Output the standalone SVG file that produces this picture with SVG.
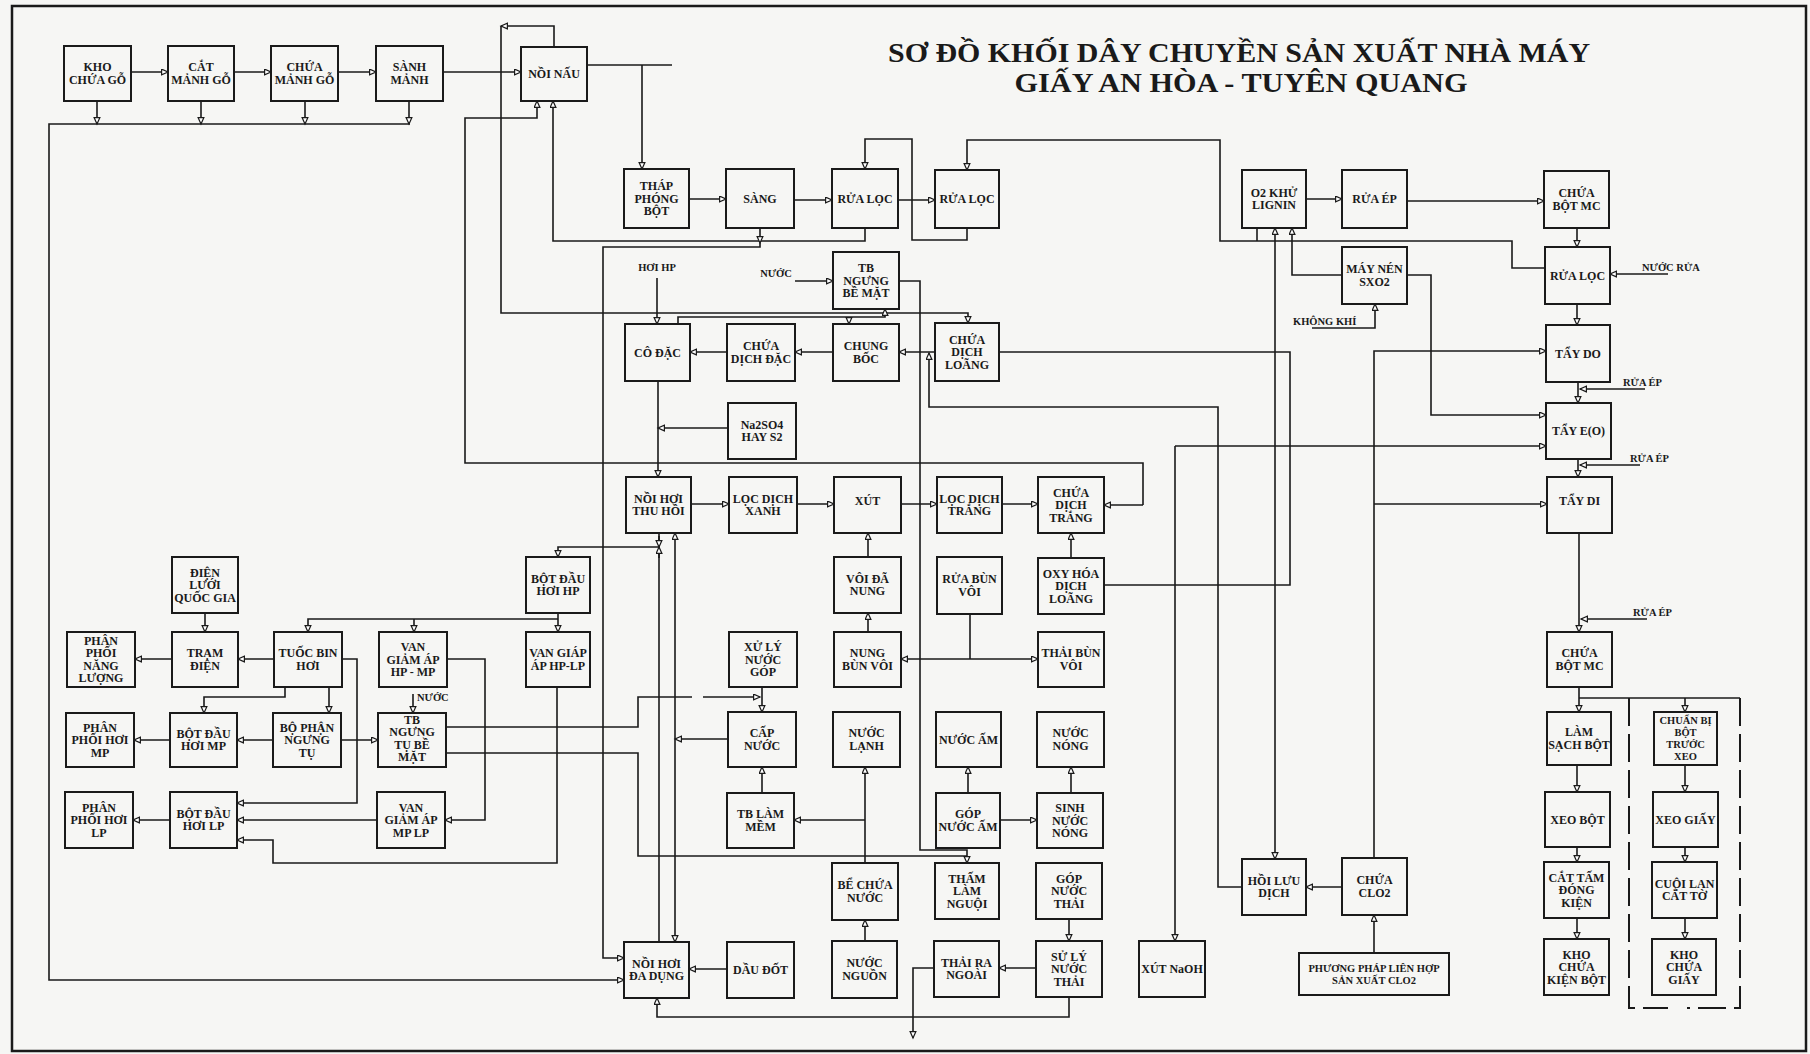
<svg xmlns="http://www.w3.org/2000/svg" width="1810" height="1054" viewBox="0 0 1810 1054">
<defs>
<marker id="ar" markerWidth="9" markerHeight="9" refX="7" refY="3.5" orient="auto" markerUnits="userSpaceOnUse">
<path d="M0.6,0.6 L7,3.5 L0.6,6.4 Z" fill="#fff" stroke="#1a1a1a" stroke-width="1.2"/>
</marker>
<style>
.n rect{fill:#f6f6f4;stroke:#1a1a1a;stroke-width:2}
.n text{font-family:"Liberation Serif","DejaVu Serif",serif;font-weight:bold;font-size:12px;text-anchor:middle;fill:#1a1a1a}
.c path{fill:none;stroke:#1a1a1a;stroke-width:1.6}
.c .a{marker-end:url(#ar)}
.c .d{stroke-dasharray:28 8;stroke-width:2}
.lbl{font-family:"Liberation Serif","DejaVu Serif",serif;font-weight:bold;font-size:10.5px;fill:#1a1a1a}
.ttl{font-family:"Liberation Serif","DejaVu Serif",serif;font-weight:bold;font-size:28px;fill:#1a1a1a;text-anchor:middle}
</style>
</defs>
<rect x="0" y="0" width="1810" height="1054" fill="#f6f6f4"/>
<rect x="12" y="6" width="1794" height="1045" fill="none" stroke="#1a1a1a" stroke-width="2.5"/>
<g id="title">
<text class="ttl" x="1239" y="62" textLength="702" lengthAdjust="spacingAndGlyphs">SƠ ĐỒ KHỐI DÂY CHUYỀN SẢN XUẤT NHÀ MÁY</text>
<text class="ttl" x="1241" y="92" textLength="453" lengthAdjust="spacingAndGlyphs">GIẤY AN HÒA - TUYÊN QUANG</text>
</g>
<g id="connectors" class="c">
<path class="a" d="M131,72H168"/>
<path class="a" d="M234,72H271"/>
<path class="a" d="M338,72H376"/>
<path class="a" d="M443,72H521"/>
<path class="a" d="M97,101V124"/>
<path class="a" d="M201,101V124"/>
<path class="a" d="M305,101V124"/>
<path class="a" d="M409,101V124"/>
<path class="a" d="M410,124H49V980H624"/>
<path class="a" d="M554,47V26H501"/>
<path class="a" d="M501,26V313H968V323"/>
<path d="M587,65H672"/>
<path class="a" d="M642,65V169"/>
<path class="a" d="M1143,505H1104"/>
<path class="a" d="M1143,505V463H465V118H537V101"/>
<path class="a" d="M865,228V241H553V101"/>
<path class="a" d="M760,228V243"/>
<path class="a" d="M760,243V247H603V958H624"/>
<path class="a" d="M689,199H726"/>
<path class="a" d="M794,200H832"/>
<path class="a" d="M898,200H935"/>
<path class="a" d="M967,228V240H912V139H865V169"/>
<path class="a" d="M1545,268H1512V241H1220V140H967V170"/>
<path d="M1257,228V241"/>
<path class="a" d="M1306,199H1342"/>
<path class="a" d="M1407,201H1544"/>
<path class="a" d="M1577,228V247"/>
<path class="a" d="M1668,274H1610"/>
<path class="a" d="M1577,304V325"/>
<path class="a" d="M1578,382V403"/>
<path class="a" d="M1645,389H1580"/>
<path class="a" d="M1578,459V477"/>
<path class="a" d="M1640,465H1580"/>
<path class="a" d="M1579,533V632"/>
<path class="a" d="M1647,619H1581"/>
<path class="a" d="M1579,687V712"/>
<path d="M1579,698H1740"/>
<path class="a" d="M1685,698V712"/>
<path class="d" d="M1629,698V1008H1668"/>
<path class="d" d="M1740,698V1008H1687"/>
<path class="a" d="M1577,765V792"/>
<path class="a" d="M1577,847V862"/>
<path class="a" d="M1577,918V939"/>
<path class="a" d="M1685,765V792"/>
<path class="a" d="M1685,847V862"/>
<path class="a" d="M1685,918V939"/>
<path class="a" d="M1342,275H1292V228"/>
<path class="a" d="M1312,328H1375V304"/>
<path class="a" d="M1407,275H1431V415H1546"/>
<path class="a" d="M1374,858V351H1546"/>
<path class="a" d="M1374,504H1547"/>
<path class="a" d="M1175,446V941"/>
<path class="a" d="M1175,446H1546"/>
<path class="a" d="M1275,545V228"/>
<path class="a" d="M1275,545V859"/>
<path class="a" d="M1342,887H1306"/>
<path class="a" d="M1242,887H1218V407H929V353"/>
<path class="a" d="M1374,953V915"/>
<path class="a" d="M935,352H899"/>
<path d="M999,352H1290V585H1104"/>
<path class="a" d="M833,352H795"/>
<path class="a" d="M727,352H690"/>
<path class="a" d="M657,278V324"/>
<path class="a" d="M678,324V317H885V309"/>
<path class="a" d="M849,317V324"/>
<path class="a" d="M795,281H833"/>
<path class="a" d="M899,281H920V850H967V863"/>
<path class="a" d="M658,381V477"/>
<path class="a" d="M728,428H658"/>
<path class="a" d="M691,504H729"/>
<path class="a" d="M797,504H834"/>
<path class="a" d="M901,504H937"/>
<path class="a" d="M1002,504H1038"/>
<path class="a" d="M1071,558V533"/>
<path class="a" d="M868,557V533"/>
<path class="a" d="M868,632V613"/>
<path d="M970,614V659"/>
<path class="a" d="M970,659H901"/>
<path class="a" d="M970,659H1038"/>
<path d="M659,533V942"/>
<path class="a" d="M659,536V547"/>
<path class="a" d="M659,558V547"/>
<path class="a" d="M659,547H558V557"/>
<path class="a" d="M728,739H675"/>
<path class="a" d="M675,739V533"/>
<path class="a" d="M675,739V942"/>
<path class="a" d="M558,613V632"/>
<path class="a" d="M558,619H308V632"/>
<path class="a" d="M414,619V632"/>
<path class="a" d="M557,687V863H273V840H237"/>
<path class="a" d="M447,659H485V820H445"/>
<path class="a" d="M274,659H238"/>
<path class="a" d="M172,659H135"/>
<path class="a" d="M205,613V632"/>
<path class="a" d="M285,687V697H204V713"/>
<path class="a" d="M329,687V713"/>
<path class="a" d="M342,659H357V803H237"/>
<path class="a" d="M273,740H237"/>
<path class="a" d="M170,740H134"/>
<path class="a" d="M341,740H378"/>
<path class="a" d="M377,820H237"/>
<path class="a" d="M170,820H133"/>
<path class="a" d="M413,694V713"/>
<path d="M446,727H638V697H692"/>
<path class="a" d="M703,697H760"/>
<path class="a" d="M762,687V712"/>
<path d="M446,753H638V856H967"/>
<path class="a" d="M762,793V767"/>
<path class="a" d="M865,863V767"/>
<path class="a" d="M865,820H794"/>
<path class="a" d="M865,941V920"/>
<path class="a" d="M727,969H689"/>
<path class="a" d="M1069,997V1017H657V998"/>
<path class="a" d="M968,793V767"/>
<path class="a" d="M1071,793V767"/>
<path class="a" d="M1000,820H1037"/>
<path class="a" d="M1069,919V941"/>
<path class="a" d="M1036,968H999"/>
<path class="a" d="M934,968H913V1038"/>
</g>
<g id="labels">
<text class="lbl" x="657" y="271" text-anchor="middle">HƠI HP</text>
<text class="lbl" x="776" y="277" text-anchor="middle">NƯỚC</text>
<text class="lbl" x="1293" y="325">KHÔNG KHÍ</text>
<text class="lbl" x="1642" y="271">NƯỚC RỬA</text>
<text class="lbl" x="1623" y="386">RỬA ÉP</text>
<text class="lbl" x="1630" y="462">RỬA ÉP</text>
<text class="lbl" x="1633" y="616">RỬA ÉP</text>
<text class="lbl" x="417" y="701">NƯỚC</text>
</g>
<g id="n1" class="n"><rect x="64" y="46" width="67" height="55"/><text x="97.5" y="71.25"><tspan x="97.5">KHO</tspan><tspan x="97.5" dy="12.5">CHỨA GỖ</tspan></text></g>
<g id="n2" class="n"><rect x="168" y="46" width="66" height="55"/><text x="201" y="71.25"><tspan x="201">CẮT</tspan><tspan x="201" dy="12.5">MẢNH GỖ</tspan></text></g>
<g id="n3" class="n"><rect x="271" y="46" width="67" height="55"/><text x="304.5" y="71.25"><tspan x="304.5">CHỨA</tspan><tspan x="304.5" dy="12.5">MẢNH GỖ</tspan></text></g>
<g id="n4" class="n"><rect x="376" y="46" width="67" height="55"/><text x="409.5" y="71.25"><tspan x="409.5">SÀNH</tspan><tspan x="409.5" dy="12.5">MẢNH</tspan></text></g>
<g id="n5" class="n"><rect x="521" y="47" width="66" height="54"/><text x="554" y="78">NỒI NẤU</text></g>
<g id="n6" class="n"><rect x="624" y="169" width="65" height="59"/><text x="656.5" y="190"><tspan x="656.5">THÁP</tspan><tspan x="656.5" dy="12.5">PHÓNG</tspan><tspan x="656.5" dy="12.5">BỘT</tspan></text></g>
<g id="n7" class="n"><rect x="726" y="169" width="68" height="59"/><text x="760" y="202.5">SÀNG</text></g>
<g id="n8" class="n"><rect x="832" y="169" width="66" height="59"/><text x="865" y="202.5">RỬA LỌC</text></g>
<g id="n9" class="n"><rect x="935" y="170" width="64" height="58"/><text x="967" y="203">RỬA LỌC</text></g>
<g id="n10" class="n"><rect x="1242" y="170" width="64" height="58"/><text x="1274" y="196.75"><tspan x="1274">O2 KHỬ</tspan><tspan x="1274" dy="12.5">LIGNIN</tspan></text></g>
<g id="n11" class="n"><rect x="1342" y="170" width="65" height="58"/><text x="1374.5" y="203">RỬA ÉP</text></g>
<g id="n12" class="n"><rect x="1544" y="171" width="65" height="57"/><text x="1576.5" y="197.25"><tspan x="1576.5">CHỨA</tspan><tspan x="1576.5" dy="12.5">BỘT MC</tspan></text></g>
<g id="n13" class="n"><rect x="1545" y="247" width="65" height="57"/><text x="1577.5" y="279.5">RỬA LỌC</text></g>
<g id="n14" class="n"><rect x="1342" y="247" width="65" height="57"/><text x="1374.5" y="273.25"><tspan x="1374.5">MÁY NÉN</tspan><tspan x="1374.5" dy="12.5">SXO2</tspan></text></g>
<g id="n15" class="n"><rect x="1546" y="325" width="64" height="57"/><text x="1578" y="357.5">TẨY DO</text></g>
<g id="n16" class="n"><rect x="1546" y="403" width="65" height="56"/><text x="1578.5" y="435">TẨY E(O)</text></g>
<g id="n17" class="n"><rect x="1547" y="477" width="65" height="56"/><text x="1579.5" y="505">TẨY DI</text></g>
<g id="n18" class="n"><rect x="1547" y="632" width="65" height="55"/><text x="1579.5" y="657.25"><tspan x="1579.5">CHỨA</tspan><tspan x="1579.5" dy="12.5">BỘT MC</tspan></text></g>
<g id="n19" class="n"><rect x="1547" y="712" width="64" height="53"/><text x="1579" y="736.25"><tspan x="1579">LÀM</tspan><tspan x="1579" dy="12.5">SẠCH BỘT</tspan></text></g>
<g id="n20" class="n"><rect x="1654" y="712" width="63" height="53"/><text x="1685.5" y="724" style="font-size:10.5px"><tspan x="1685.5">CHUẨN BỊ</tspan><tspan x="1685.5" dy="12">BỘT</tspan><tspan x="1685.5" dy="12">TRƯỚC</tspan><tspan x="1685.5" dy="12">XEO</tspan></text></g>
<g id="n21" class="n"><rect x="1545" y="792" width="65" height="55"/><text x="1577.5" y="823.5">XEO BỘT</text></g>
<g id="n22" class="n"><rect x="1653" y="792" width="65" height="55"/><text x="1685.5" y="823.5">XEO GIẤY</text></g>
<g id="n23" class="n"><rect x="1544" y="862" width="65" height="56"/><text x="1576.5" y="881.5"><tspan x="1576.5">CẮT TẤM</tspan><tspan x="1576.5" dy="12.5">ĐÓNG</tspan><tspan x="1576.5" dy="12.5">KIỆN</tspan></text></g>
<g id="n24" class="n"><rect x="1652" y="862" width="65" height="56"/><text x="1684.5" y="887.75"><tspan x="1684.5">CUỘI LAN</tspan><tspan x="1684.5" dy="12.5">CẮT TỜ</tspan></text></g>
<g id="n25" class="n"><rect x="1544" y="939" width="65" height="56"/><text x="1576.5" y="958.5"><tspan x="1576.5">KHO</tspan><tspan x="1576.5" dy="12.5">CHỨA</tspan><tspan x="1576.5" dy="12.5">KIỆN BỘT</tspan></text></g>
<g id="n26" class="n"><rect x="1652" y="939" width="64" height="56"/><text x="1684" y="958.5"><tspan x="1684">KHO</tspan><tspan x="1684" dy="12.5">CHỨA</tspan><tspan x="1684" dy="12.5">GIẤY</tspan></text></g>
<g id="n27" class="n"><rect x="833" y="252" width="66" height="57"/><text x="866" y="272"><tspan x="866">TB</tspan><tspan x="866" dy="12.5">NGƯNG</tspan><tspan x="866" dy="12.5">BỀ MẶT</tspan></text></g>
<g id="n28" class="n"><rect x="625" y="324" width="65" height="57"/><text x="657.5" y="356.5">CÔ ĐẶC</text></g>
<g id="n29" class="n"><rect x="727" y="324" width="68" height="57"/><text x="761" y="350.25"><tspan x="761">CHỨA</tspan><tspan x="761" dy="12.5">DỊCH ĐẶC</tspan></text></g>
<g id="n30" class="n"><rect x="833" y="324" width="66" height="57"/><text x="866" y="350.25"><tspan x="866">CHUNG</tspan><tspan x="866" dy="12.5">BỐC</tspan></text></g>
<g id="n31" class="n"><rect x="935" y="323" width="64" height="58"/><text x="967" y="343.5"><tspan x="967">CHỨA</tspan><tspan x="967" dy="12.5">DỊCH</tspan><tspan x="967" dy="12.5">LOÃNG</tspan></text></g>
<g id="n32" class="n"><rect x="728" y="403" width="68" height="56"/><text x="762" y="428.75"><tspan x="762">Na2SO4</tspan><tspan x="762" dy="12.5">HAY S2</tspan></text></g>
<g id="n33" class="n"><rect x="626" y="477" width="65" height="56"/><text x="658.5" y="502.75"><tspan x="658.5">NỒI HƠI</tspan><tspan x="658.5" dy="12.5">THU HỒI</tspan></text></g>
<g id="n34" class="n"><rect x="729" y="477" width="68" height="56"/><text x="763" y="502.75"><tspan x="763">LỌC DỊCH</tspan><tspan x="763" dy="12.5">XANH</tspan></text></g>
<g id="n35" class="n"><rect x="834" y="477" width="67" height="56"/><text x="867.5" y="505">XÚT</text></g>
<g id="n36" class="n"><rect x="937" y="477" width="65" height="56"/><text x="969.5" y="502.75"><tspan x="969.5">LỌC DỊCH</tspan><tspan x="969.5" dy="12.5">TRẮNG</tspan></text></g>
<g id="n37" class="n"><rect x="1038" y="477" width="66" height="56"/><text x="1071" y="496.5"><tspan x="1071">CHỨA</tspan><tspan x="1071" dy="12.5">DỊCH</tspan><tspan x="1071" dy="12.5">TRẮNG</tspan></text></g>
<g id="n38" class="n"><rect x="526" y="557" width="64" height="56"/><text x="558" y="582.75"><tspan x="558">BỘT ĐẦU</tspan><tspan x="558" dy="12.5">HƠI HP</tspan></text></g>
<g id="n39" class="n"><rect x="834" y="557" width="67" height="56"/><text x="867.5" y="582.75"><tspan x="867.5">VÔI ĐÃ</tspan><tspan x="867.5" dy="12.5">NUNG</tspan></text></g>
<g id="n40" class="n"><rect x="937" y="557" width="65" height="57"/><text x="969.5" y="583.25"><tspan x="969.5">RỬA BÙN</tspan><tspan x="969.5" dy="12.5">VÔI</tspan></text></g>
<g id="n41" class="n"><rect x="1038" y="558" width="66" height="56"/><text x="1071" y="577.5"><tspan x="1071">OXY HÓA</tspan><tspan x="1071" dy="12.5">DỊCH</tspan><tspan x="1071" dy="12.5">LOÃNG</tspan></text></g>
<g id="n42" class="n"><rect x="172" y="557" width="66" height="56"/><text x="205" y="576.5"><tspan x="205">ĐIỆN</tspan><tspan x="205" dy="12.5">LƯỚI</tspan><tspan x="205" dy="12.5">QUỐC GIA</tspan></text></g>
<g id="n43" class="n"><rect x="67" y="632" width="68" height="55"/><text x="101" y="644.75"><tspan x="101">PHÂN</tspan><tspan x="101" dy="12.5">PHỐI</tspan><tspan x="101" dy="12.5">NĂNG</tspan><tspan x="101" dy="12.5">LƯỢNG</tspan></text></g>
<g id="n44" class="n"><rect x="172" y="632" width="66" height="55"/><text x="205" y="657.25"><tspan x="205">TRẠM</tspan><tspan x="205" dy="12.5">ĐIỆN</tspan></text></g>
<g id="n45" class="n"><rect x="274" y="632" width="68" height="55"/><text x="308" y="657.25"><tspan x="308">TUỐC BIN</tspan><tspan x="308" dy="12.5">HƠI</tspan></text></g>
<g id="n46" class="n"><rect x="379" y="632" width="68" height="55"/><text x="413" y="651"><tspan x="413">VAN</tspan><tspan x="413" dy="12.5">GIẢM ÁP</tspan><tspan x="413" dy="12.5">HP - MP</tspan></text></g>
<g id="n47" class="n"><rect x="526" y="632" width="64" height="55"/><text x="558" y="657.25"><tspan x="558">VAN GIÁP</tspan><tspan x="558" dy="12.5">ÁP HP-LP</tspan></text></g>
<g id="n48" class="n"><rect x="729" y="632" width="68" height="55"/><text x="763" y="651"><tspan x="763">XỬ LÝ</tspan><tspan x="763" dy="12.5">NƯỚC</tspan><tspan x="763" dy="12.5">GÓP</tspan></text></g>
<g id="n49" class="n"><rect x="834" y="632" width="67" height="55"/><text x="867.5" y="657.25"><tspan x="867.5">NUNG</tspan><tspan x="867.5" dy="12.5">BÙN VÔI</tspan></text></g>
<g id="n50" class="n"><rect x="1038" y="632" width="66" height="55"/><text x="1071" y="657.25"><tspan x="1071">THẢI BÙN</tspan><tspan x="1071" dy="12.5">VÔI</tspan></text></g>
<g id="n51" class="n"><rect x="728" y="712" width="68" height="55"/><text x="762" y="737.25"><tspan x="762">CẤP</tspan><tspan x="762" dy="12.5">NƯỚC</tspan></text></g>
<g id="n52" class="n"><rect x="833" y="712" width="67" height="55"/><text x="866.5" y="737.25"><tspan x="866.5">NƯỚC</tspan><tspan x="866.5" dy="12.5">LẠNH</tspan></text></g>
<g id="n53" class="n"><rect x="936" y="712" width="65" height="55"/><text x="968.5" y="743.5">NƯỚC ẤM</text></g>
<g id="n54" class="n"><rect x="1037" y="712" width="67" height="55"/><text x="1070.5" y="737.25"><tspan x="1070.5">NƯỚC</tspan><tspan x="1070.5" dy="12.5">NÓNG</tspan></text></g>
<g id="n55" class="n"><rect x="66" y="713" width="68" height="54"/><text x="100" y="731.5"><tspan x="100">PHÂN</tspan><tspan x="100" dy="12.5">PHỐI HƠI</tspan><tspan x="100" dy="12.5">MP</tspan></text></g>
<g id="n56" class="n"><rect x="170" y="713" width="67" height="54"/><text x="203.5" y="737.75"><tspan x="203.5">BỘT ĐẦU</tspan><tspan x="203.5" dy="12.5">HƠI MP</tspan></text></g>
<g id="n57" class="n"><rect x="273" y="713" width="68" height="54"/><text x="307" y="731.5"><tspan x="307">BỘ PHẬN</tspan><tspan x="307" dy="12.5">NGƯNG</tspan><tspan x="307" dy="12.5">TỤ</tspan></text></g>
<g id="n58" class="n"><rect x="378" y="713" width="68" height="54"/><text x="412" y="724"><tspan x="412">TB</tspan><tspan x="412" dy="12.3">NGƯNG</tspan><tspan x="412" dy="12.3">TỤ BỀ</tspan><tspan x="412" dy="12.3">MẶT</tspan></text></g>
<g id="n59" class="n"><rect x="727" y="793" width="67" height="55"/><text x="760.5" y="818.25"><tspan x="760.5">TB LÀM</tspan><tspan x="760.5" dy="12.5">MỀM</tspan></text></g>
<g id="n60" class="n"><rect x="936" y="793" width="64" height="55"/><text x="968" y="818.25"><tspan x="968">GÓP</tspan><tspan x="968" dy="12.5">NƯỚC ẤM</tspan></text></g>
<g id="n61" class="n"><rect x="1037" y="793" width="66" height="55"/><text x="1070" y="812"><tspan x="1070">SINH</tspan><tspan x="1070" dy="12.5">NƯỚC</tspan><tspan x="1070" dy="12.5">NÓNG</tspan></text></g>
<g id="n62" class="n"><rect x="65" y="792" width="68" height="56"/><text x="99" y="811.5"><tspan x="99">PHÂN</tspan><tspan x="99" dy="12.5">PHỐI HƠI</tspan><tspan x="99" dy="12.5">LP</tspan></text></g>
<g id="n63" class="n"><rect x="170" y="792" width="67" height="56"/><text x="203.5" y="817.75"><tspan x="203.5">BỘT ĐẦU</tspan><tspan x="203.5" dy="12.5">HƠI LP</tspan></text></g>
<g id="n64" class="n"><rect x="377" y="792" width="68" height="56"/><text x="411" y="811.5"><tspan x="411">VAN</tspan><tspan x="411" dy="12.5">GIẢM ÁP</tspan><tspan x="411" dy="12.5">MP LP</tspan></text></g>
<g id="n65" class="n"><rect x="1242" y="859" width="64" height="56"/><text x="1274" y="884.75"><tspan x="1274">HỒI LƯU</tspan><tspan x="1274" dy="12.5">DỊCH</tspan></text></g>
<g id="n66" class="n"><rect x="1342" y="858" width="65" height="57"/><text x="1374.5" y="884.25"><tspan x="1374.5">CHỨA</tspan><tspan x="1374.5" dy="12.5">CLO2</tspan></text></g>
<g id="n67" class="n"><rect x="832" y="863" width="66" height="57"/><text x="865" y="889.25"><tspan x="865">BỂ CHỨA</tspan><tspan x="865" dy="12.5">NƯỚC</tspan></text></g>
<g id="n68" class="n"><rect x="935" y="863" width="64" height="56"/><text x="967" y="882.5"><tspan x="967">THẤM</tspan><tspan x="967" dy="12.5">LÀM</tspan><tspan x="967" dy="12.5">NGUỘI</tspan></text></g>
<g id="n69" class="n"><rect x="1036" y="863" width="66" height="56"/><text x="1069" y="882.5"><tspan x="1069">GÓP</tspan><tspan x="1069" dy="12.5">NƯỚC</tspan><tspan x="1069" dy="12.5">THẢI</tspan></text></g>
<g id="n70" class="n"><rect x="624" y="942" width="65" height="56"/><text x="656.5" y="967.75"><tspan x="656.5">NỒI HƠI</tspan><tspan x="656.5" dy="12.5">ĐA DỤNG</tspan></text></g>
<g id="n71" class="n"><rect x="727" y="942" width="67" height="56"/><text x="760.5" y="974">DẦU ĐỐT</text></g>
<g id="n72" class="n"><rect x="832" y="941" width="65" height="57"/><text x="864.5" y="967.25"><tspan x="864.5">NƯỚC</tspan><tspan x="864.5" dy="12.5">NGUỒN</tspan></text></g>
<g id="n73" class="n"><rect x="934" y="941" width="65" height="56"/><text x="966.5" y="966.75"><tspan x="966.5">THẢI RA</tspan><tspan x="966.5" dy="12.5">NGOÀI</tspan></text></g>
<g id="n74" class="n"><rect x="1036" y="941" width="66" height="56"/><text x="1069" y="960.5"><tspan x="1069">SỬ LÝ</tspan><tspan x="1069" dy="12.5">NƯỚC</tspan><tspan x="1069" dy="12.5">THẢI</tspan></text></g>
<g id="n75" class="n"><rect x="1139" y="941" width="66" height="56"/><text x="1172" y="973">XÚT NaOH</text></g>
<g id="n76" class="n"><rect x="1299" y="953" width="150" height="42"/><text x="1374" y="971.75" style="font-size:10.5px"><tspan x="1374">PHƯƠNG PHÁP LIÊN HỢP</tspan><tspan x="1374" dy="12.5">SẢN XUẤT CLO2</tspan></text></g>
</svg>
